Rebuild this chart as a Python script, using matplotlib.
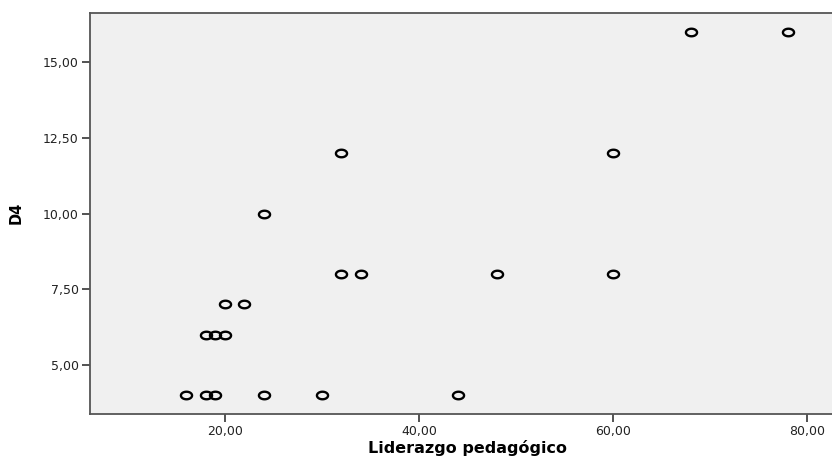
import numpy as np
import matplotlib
matplotlib.use("Agg")
import matplotlib.pyplot as plt
from matplotlib.path import Path

# Data
liderazgo = [16, 18, 19, 24, 30, 44,
             18, 19, 20,
             20, 22,
             32, 34, 48, 60,
             24,
             32, 60,
             68, 78]
d4 = [4, 4, 4, 4, 4, 4,
      6, 6, 6,
      7, 7,
      8, 8, 8, 8,
      10,
      12, 12,
      16, 16]

xticks = [20, 40, 60, 80]
yticks = [5.0, 7.5, 10.0, 12.5, 15.0]

def fmt(v):
    return f"{v:.2f}".replace(".", ",")

fig = plt.figure(figsize=(8.32, 4.57), dpi=100)
ax = fig.add_axes([90 / 832, 1 - 414 / 457, (845 - 90) / 832, (414 - 12.5) / 457])
ax.set_facecolor("#F0F0F0")

t = np.linspace(0, 2 * np.pi, 60)
ell = Path(np.column_stack([np.cos(t), 0.68 * np.sin(t)]), closed=True)

ax.plot(liderazgo, d4, linestyle="none", marker=ell, markersize=8,
        markerfacecolor="none", markeredgecolor="black", markeredgewidth=1.7)

ax.set_xlim(6.08, 83.9)
ax.set_ylim(3.38, 16.645)

ax.set_xticks(xticks)
ax.set_xticklabels([fmt(v) for v in xticks])
ax.set_yticks(yticks)
ax.set_yticklabels([fmt(v) for v in yticks])

ax.tick_params(axis="both", direction="out", length=6, width=1.3,
               color="#444444", labelsize=9, labelcolor="#222222", pad=2)

for side in ["left", "bottom", "top"]:
    ax.spines[side].set_color("#555555")
    ax.spines[side].set_linewidth(1.3)
ax.spines["right"].set_visible(False)

ax.set_xlabel("Liderazgo pedagógico", fontsize=11.5, fontweight="bold", labelpad=1)
ax.set_ylabel("D4", fontsize=10.5, fontweight="bold", labelpad=14)

fig.savefig("out.png", dpi=100)
